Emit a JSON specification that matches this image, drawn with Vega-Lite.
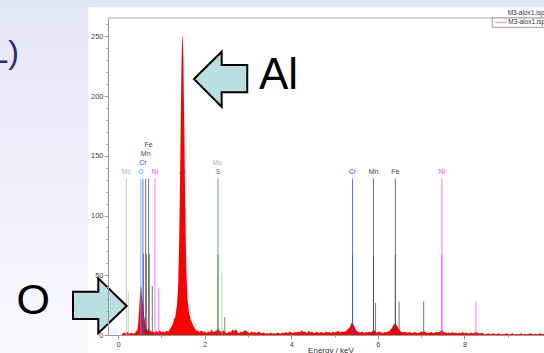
{
  "$schema": "https://vega.github.io/schema/vega-lite/v6.json",
  "autosize": {"type": "none"},
  "width": 437,
  "height": 317,
  "padding": {"left": 108, "top": 18, "right": 0, "bottom": 18},
  "background": "#e8e8f9",
  "config": {
    "view": {"stroke": null},
    "font": "Liberation Sans",
    "axis": {"labelFont": "Liberation Sans", "titleFont": "Liberation Sans"}
  },
  "datasets": {
    "spectrum": [
      {"e":0.08,"c":0},{"e":0.10,"c":1},{"e":0.14,"c":2},{"e":0.18,"c":1},{"e":0.22,"c":2.5},{"e":0.26,"c":1},{"e":0.30,"c":2},{"e":0.34,"c":1},{"e":0.38,"c":1.5},{"e":0.42,"c":3},{"e":0.45,"c":5},
      {"e":0.47,"c":12},{"e":0.49,"c":24},{"e":0.50,"c":31},{"e":0.51,"c":37},{"e":0.52,"c":40},{"e":0.53,"c":41},{"e":0.54,"c":38},{"e":0.55,"c":34},{"e":0.56,"c":30},{"e":0.57,"c":27},{"e":0.58,"c":25},{"e":0.59,"c":21},{"e":0.60,"c":17},{"e":0.62,"c":12},{"e":0.64,"c":8},{"e":0.66,"c":5},{"e":0.68,"c":4},{"e":0.70,"c":6},{"e":0.72,"c":3},{"e":0.74,"c":4},{"e":0.77,"c":2.5},{"e":0.80,"c":3},
      {"e":0.84,"c":2},{"e":0.88,"c":3.5},{"e":0.92,"c":2},{"e":0.96,"c":4},{"e":1.00,"c":2.5},{"e":1.04,"c":3},{"e":1.08,"c":2},{"e":1.12,"c":3.5},{"e":1.16,"c":3},
      {"e":1.20,"c":5},{"e":1.22,"c":6.5},{"e":1.25,"c":8},{"e":1.28,"c":11},{"e":1.30,"c":14},{"e":1.32,"c":15},{"e":1.34,"c":20},{"e":1.36,"c":25},{"e":1.38,"c":37},{"e":1.39,"c":45},{"e":1.40,"c":61},{"e":1.41,"c":77},{"e":1.42,"c":101},{"e":1.43,"c":126},{"e":1.44,"c":158},{"e":1.45,"c":186},{"e":1.46,"c":216},{"e":1.47,"c":236},{"e":1.48,"c":248},{"e":1.487,"c":252},{"e":1.49,"c":250},{"e":1.50,"c":242},{"e":1.51,"c":225},{"e":1.52,"c":197},{"e":1.53,"c":170},{"e":1.54,"c":138},{"e":1.55,"c":112},{"e":1.56,"c":85},{"e":1.57,"c":67},{"e":1.58,"c":50},{"e":1.59,"c":41},{"e":1.60,"c":31},{"e":1.62,"c":24},{"e":1.64,"c":18},{"e":1.66,"c":16},{"e":1.68,"c":12},{"e":1.70,"c":11},{"e":1.73,"c":8},{"e":1.76,"c":6},{"e":1.80,"c":4},
      {"e":1.84,"c":3.5},{"e":1.88,"c":2},{"e":1.92,"c":4},{"e":1.96,"c":2.5},{"e":2.00,"c":3},{"e":2.04,"c":1.5},{"e":2.08,"c":3},{"e":2.12,"c":2},{"e":2.16,"c":4.5},{"e":2.20,"c":2},{"e":2.24,"c":3},{"e":2.28,"c":4},{"e":2.32,"c":5},{"e":2.36,"c":3},{"e":2.40,"c":2.5},{"e":2.44,"c":4},{"e":2.48,"c":2},{"e":2.52,"c":1.5},{"e":2.56,"c":3},{"e":2.60,"c":2},{"e":2.64,"c":4.5},{"e":2.68,"c":3},{"e":2.72,"c":5},{"e":2.76,"c":2},{"e":2.80,"c":1.5},{"e":2.84,"c":3},{"e":2.88,"c":2},{"e":2.92,"c":4},{"e":2.96,"c":3.5},{"e":3.00,"c":2},
      {"e":3.04,"c":1.5},{"e":3.08,"c":3},{"e":3.12,"c":2},{"e":3.16,"c":2.5},{"e":3.20,"c":1.5},{"e":3.24,"c":3},{"e":3.28,"c":2},{"e":3.32,"c":1.5},{"e":3.36,"c":2},{"e":3.40,"c":1},{"e":3.44,"c":1.5},{"e":3.48,"c":1},{"e":3.52,"c":2},{"e":3.56,"c":1},{"e":3.60,"c":1.5},{"e":3.64,"c":1},{"e":3.68,"c":2},{"e":3.72,"c":1.5},{"e":3.76,"c":1},{"e":3.80,"c":2},{"e":3.84,"c":1.5},{"e":3.88,"c":2.5},{"e":3.92,"c":1.5},{"e":3.96,"c":3},{"e":4.00,"c":2},
      {"e":4.04,"c":1.5},{"e":4.08,"c":2.5},{"e":4.12,"c":2},{"e":4.16,"c":3},{"e":4.20,"c":2},{"e":4.24,"c":4},{"e":4.28,"c":2.5},{"e":4.32,"c":3},{"e":4.36,"c":1.5},{"e":4.40,"c":3.5},{"e":4.44,"c":2},{"e":4.48,"c":3},{"e":4.52,"c":1.5},{"e":4.56,"c":2},{"e":4.60,"c":3},{"e":4.64,"c":1.5},{"e":4.68,"c":2.5},{"e":4.72,"c":2},{"e":4.76,"c":1.5},{"e":4.80,"c":3},{"e":4.84,"c":2},{"e":4.88,"c":2.5},{"e":4.92,"c":1.5},{"e":4.96,"c":3},{"e":5.00,"c":2},
      {"e":5.04,"c":2.5},{"e":5.08,"c":3.5},{"e":5.12,"c":2},{"e":5.16,"c":3},{"e":5.20,"c":2.5},{"e":5.24,"c":3},{"e":5.28,"c":4},{"e":5.31,"c":5},{"e":5.34,"c":6},{"e":5.37,"c":8},{"e":5.39,"c":10},{"e":5.41,"c":11},{"e":5.43,"c":9},{"e":5.45,"c":8},{"e":5.47,"c":6},{"e":5.50,"c":4},{"e":5.53,"c":3},{"e":5.56,"c":2.5},
      {"e":5.60,"c":2},{"e":5.64,"c":3},{"e":5.68,"c":1.5},{"e":5.72,"c":2.5},{"e":5.76,"c":2},{"e":5.80,"c":3},{"e":5.84,"c":2},{"e":5.88,"c":3.5},{"e":5.92,"c":4},{"e":5.96,"c":2},{"e":6.00,"c":2.5},{"e":6.04,"c":3},{"e":6.08,"c":2},{"e":6.12,"c":1.5},{"e":6.16,"c":2.5},{"e":6.20,"c":2},{"e":6.24,"c":3},{"e":6.28,"c":4},
      {"e":6.31,"c":5},{"e":6.34,"c":7},{"e":6.37,"c":9},{"e":6.40,"c":10},{"e":6.42,"c":9},{"e":6.44,"c":8},{"e":6.47,"c":6},{"e":6.50,"c":4},{"e":6.53,"c":3},
      {"e":6.56,"c":2.5},{"e":6.60,"c":2},{"e":6.64,"c":3},{"e":6.68,"c":1.5},{"e":6.72,"c":2.5},{"e":6.76,"c":2},{"e":6.80,"c":1.5},{"e":6.84,"c":2.5},{"e":6.88,"c":2},{"e":6.92,"c":1.5},{"e":6.96,"c":2},{"e":7.00,"c":3},{"e":7.04,"c":2.5},{"e":7.08,"c":3},{"e":7.12,"c":2},{"e":7.16,"c":1.5},{"e":7.20,"c":2},{"e":7.24,"c":2.5},{"e":7.28,"c":1.5},{"e":7.32,"c":2},{"e":7.36,"c":2.5},{"e":7.40,"c":2},{"e":7.44,"c":3},{"e":7.47,"c":4},{"e":7.50,"c":3.5},{"e":7.53,"c":2},{"e":7.56,"c":2.5},{"e":7.60,"c":1.5},{"e":7.64,"c":2},{"e":7.68,"c":1.5},{"e":7.72,"c":2.5},{"e":7.76,"c":1.5},{"e":7.80,"c":2},{"e":7.84,"c":1},{"e":7.88,"c":2},{"e":7.92,"c":1.5},{"e":7.96,"c":2.5},{"e":8.00,"c":1.5},
      {"e":8.04,"c":2},{"e":8.08,"c":1},{"e":8.12,"c":1.5},{"e":8.16,"c":2},{"e":8.20,"c":1},{"e":8.24,"c":2},{"e":8.28,"c":2.5},{"e":8.32,"c":1.5},{"e":8.36,"c":1},{"e":8.40,"c":2},{"e":8.44,"c":1},{"e":8.48,"c":0.5},{"e":8.52,"c":1},{"e":8.56,"c":1.5},{"e":8.60,"c":0.5},{"e":8.64,"c":1},{"e":8.68,"c":1.5},{"e":8.72,"c":0.5},{"e":8.76,"c":1},{"e":8.80,"c":1.5},{"e":8.84,"c":0.5},{"e":8.88,"c":1},{"e":8.92,"c":0.5},{"e":8.96,"c":1.5},{"e":9.00,"c":1},
      {"e":9.04,"c":0.5},{"e":9.08,"c":1},{"e":9.12,"c":1.5},{"e":9.16,"c":0.5},{"e":9.20,"c":1},{"e":9.24,"c":0.5},{"e":9.28,"c":1},{"e":9.32,"c":1.5},{"e":9.36,"c":0.5},{"e":9.40,"c":1},{"e":9.44,"c":0.5},{"e":9.48,"c":1},{"e":9.52,"c":1.5},{"e":9.56,"c":1},{"e":9.60,"c":0.5},{"e":9.64,"c":1},{"e":9.68,"c":0.5},{"e":9.72,"c":1},{"e":9.76,"c":1.5},{"e":9.80,"c":0.5},{"e":9.84,"c":1},{"e":9.88,"c":0.5}
    ],
    "markers": [
      {"e":0.192,"c":131,"el":"Mo"},{"e":0.235,"c":36,"el":"Mo"},
      {"e":0.525,"c":131,"el":"O"},
      {"e":0.573,"c":131,"el":"Cr"},{"e":0.585,"c":68,"el":"Cr"},
      {"e":0.637,"c":131,"el":"Mn"},{"e":0.652,"c":68,"el":"Mn"},
      {"e":0.705,"c":131,"el":"Fe"},{"e":0.720,"c":68,"el":"Fe"},
      {"e":0.790,"c":41,"el":"Fe"},
      {"e":0.851,"c":131,"el":"Ni"},{"e":0.940,"c":39,"el":"Ni"},
      {"e":2.307,"c":131,"el":"S"},{"e":2.307,"c":67,"el":"S"},{"e":2.395,"c":52,"el":"Mo"},{"e":2.464,"c":15,"el":"S"},
      {"e":5.414,"c":131,"el":"Cr"},{"e":5.414,"c":67,"el":"Cr"},{"e":5.946,"c":27,"el":"Cr"},
      {"e":5.899,"c":131,"el":"Mn"},{"e":5.899,"c":67,"el":"Mn"},{"e":6.490,"c":28,"el":"Mn"},
      {"e":6.404,"c":131,"el":"Fe"},{"e":6.404,"c":67,"el":"Fe"},{"e":7.058,"c":28,"el":"Fe"},
      {"e":7.478,"c":131,"el":"Ni"},{"e":7.478,"c":67,"el":"Ni"},{"e":8.265,"c":28,"el":"Ni"}
    ],
    "labels": [
      {"e":0.192,"c":136.4,"el":"Mo","t":"Mo"},
      {"e":0.525,"c":136.4,"el":"O","t":"O"},
      {"e":0.573,"c":144.2,"el":"Cr","t":"Cr"},
      {"e":0.637,"c":151.6,"el":"Mn","t":"Mn"},
      {"e":0.705,"c":159.0,"el":"Fe","t":"Fe"},
      {"e":0.851,"c":136.4,"el":"Ni","t":"Ni"},
      {"e":1.487,"c":136.4,"el":"Al","t":"Al"},
      {"e":2.307,"c":136.4,"el":"S","t":"S"},
      {"e":2.293,"c":144.2,"el":"Mo","t":"Mo"},
      {"e":5.414,"c":136.4,"el":"Cr","t":"Cr"},
      {"e":5.899,"c":136.4,"el":"Mn","t":"Mn"},
      {"e":6.404,"c":136.4,"el":"Fe","t":"Fe"},
      {"e":7.478,"c":136.4,"el":"Ni","t":"Ni"}
    ]
  },
  "encoding": {
    "x": {
      "field": "e", "type": "quantitative",
      "scale": {"domain": [-0.233, 9.86], "nice": false, "zero": false},
      "axis": {
        "zindex": 1,
        "values": [0,0.5,1,1.5,2,2.5,3,3.5,4,4.5,5,5.5,6,6.5,7,7.5,8,8.5,9,9.5],
        "format": "d",
        "labelExpr": "datum.value % 2 === 0 ? datum.label : ''",
        "tickSize": {"condition": {"test": "datum.value % 2 === 0", "value": 4}, "value": 2},
        "title": "Energy / keV", "titleFontSize": 8, "titleFontWeight": "normal", "titleColor": "#333333",
        "titleX": 222.5, "titleY": 17, "titleAnchor": "middle", "titleAlign": "center", "titleBaseline": "alphabetic",
        "labelFontSize": 7.5, "labelColor": "#444444", "labelPadding": 1,
        "domainColor": "#999999", "tickColor": "#999999", "grid": false
      }
    },
    "y": {
      "field": "c", "type": "quantitative",
      "scale": {"domain": [0, 265.3], "nice": false, "zero": true},
      "axis": {
        "zindex": 1,
        "values": [0,10,20,30,40,50,60,70,80,90,100,110,120,130,140,150,160,170,180,190,200,210,220,230,240,250,260],
        "labelExpr": "datum.value % 50 === 0 ? datum.label : ''",
        "tickSize": {"condition": {"test": "datum.value % 50 === 0", "value": 4}, "value": 2},
        "title": null,
        "labelFontSize": 7.5, "labelColor": "#444444", "labelPadding": 1,
        "domainColor": "#999999", "tickColor": "#999999", "grid": false
      }
    }
  },
  "layer": [
    {
      "data": {"values": [{"e": -3, "e2": 12, "c": 290, "c2": -20}]},
      "mark": {"type": "rect", "clip": false, "fill": {"gradient": "linear", "x1": 0, "y1": 0, "x2": 0, "y2": 1, "stops": [{"offset": 0, "color": "#e4e4f8"}, {"offset": 1, "color": "#fafafe"}]}},
      "encoding": {"x2": {"field": "e2"}, "y2": {"field": "c2"}}
    },
    {
      "data": {"values": [{"e": -0.688, "e2": 12, "c": 274.2, "c2": -20}]},
      "mark": {"type": "rect", "clip": false, "fill": "#ffffff"},
      "encoding": {"x2": {"field": "e2"}, "y2": {"field": "c2"}}
    },
    {
      "data": {"values": [{"e": -0.233, "e2": 12, "c": 265.3}]},
      "mark": {"type": "rule", "clip": false, "color": "#a8a8a8", "strokeWidth": 1},
      "encoding": {"x2": {"field": "e2"}}
    },
    {
      "data": {"values": [{"e": 8.643, "e2": 12, "c": 265.3, "c2": 257.5}]},
      "mark": {"type": "rect", "clip": false, "fill": "#ffffff", "stroke": "#a0a0a0", "strokeWidth": 1},
      "encoding": {"x2": {"field": "e2"}, "y2": {"field": "c2"}}
    },
    {
      "data": {"values": [{"e": 8.704, "e2": 8.975, "c": 261.7}]},
      "mark": {"type": "rule", "clip": false, "color": "#ff9090", "strokeWidth": 1},
      "encoding": {"x2": {"field": "e2"}}
    },
    {
      "data": {"values": [{"e": 8.998, "c": 269.2, "t": "M3-alox1.isp"}, {"e": 9.012, "c": 261.7, "t": "M3-alox1.isp"}]},
      "mark": {"type": "text", "clip": false, "align": "left", "baseline": "middle", "fontSize": 6.5, "color": "#333333", "font": "Liberation Sans"},
      "encoding": {"text": {"field": "t"}}
    },
    {
      "data": {"name": "labels"},
      "mark": {"type": "text", "align": "center", "baseline": "middle", "fontSize": 7, "font": "Liberation Sans"},
      "encoding": {
        "text": {"field": "t"},
        "color": {"field": "el", "type": "nominal", "legend": null,
          "scale": {"domain": ["Mo","O","Cr","Mn","Fe","Ni","Al","S"], "range": ["#b4b4b4","#33bbff","#3344ff","#444444","#444444","#ff44ff","#9933ee","#2a8a2a"]}}
      }
    },
    {
      "data": {"name": "spectrum"},
      "mark": {"type": "area", "color": "#ff0000", "interpolate": "linear", "clip": true, "line": false}
    },
    {
      "data": {"name": "markers"},
      "mark": {"type": "rule", "strokeWidth": 1, "opacity": 0.75},
      "encoding": {
        "y2": {"datum": 0},
        "color": {"field": "el", "type": "nominal", "legend": null}
      }
    },
    {
      "data": {"values": [{"e": 2.353, "c": 214.2}]},
      "mark": {"type": "point", "clip": false, "shape": "M-26,0 L1.7,-27.3 L1.7,-14 L27.3,-14 L27.3,13.3 L1.7,13.3 L1.7,27.7 Z", "size": 4, "filled": true, "fill": "#badfe0", "stroke": "#000000", "strokeWidth": 2, "opacity": 1, "strokeJoin": "miter"}
    },
    {
      "data": {"values": [{"e": -0.418, "c": 24.3}]},
      "mark": {"type": "point", "clip": false, "shape": "M26.7,0 L-1.7,-27.7 L-1.7,-14.3 L-27,-14.3 L-27,13 L-1.7,13 L-1.7,27.3 Z", "size": 4, "filled": true, "fill": "#badfe0", "stroke": "#000000", "strokeWidth": 2, "opacity": 1, "strokeJoin": "miter"}
    },
    {
      "data": {"values": [{"e": 3.254, "c": 205.6, "t": "Al"}]},
      "mark": {"type": "text", "clip": false, "align": "left", "baseline": "alphabetic", "fontSize": 44, "color": "#000000", "font": "Liberation Sans"},
      "encoding": {"text": {"field": "t"}}
    },
    {
      "data": {"values": [{"e": -1.958, "c": 17.2, "t": "O"}]},
      "mark": {"type": "text", "clip": false, "align": "center", "baseline": "alphabetic", "fontSize": 43, "color": "#000000", "font": "Liberation Sans"},
      "encoding": {"text": {"field": "t"}}
    },
    {
      "data": {"values": [{"e": -2.289, "c": 227.6, "t": "L)"}]},
      "mark": {"type": "text", "clip": false, "align": "right", "baseline": "alphabetic", "fontSize": 32, "color": "#2a2a78", "font": "Liberation Sans"},
      "encoding": {"text": {"field": "t"}}
    }
  ]
}
